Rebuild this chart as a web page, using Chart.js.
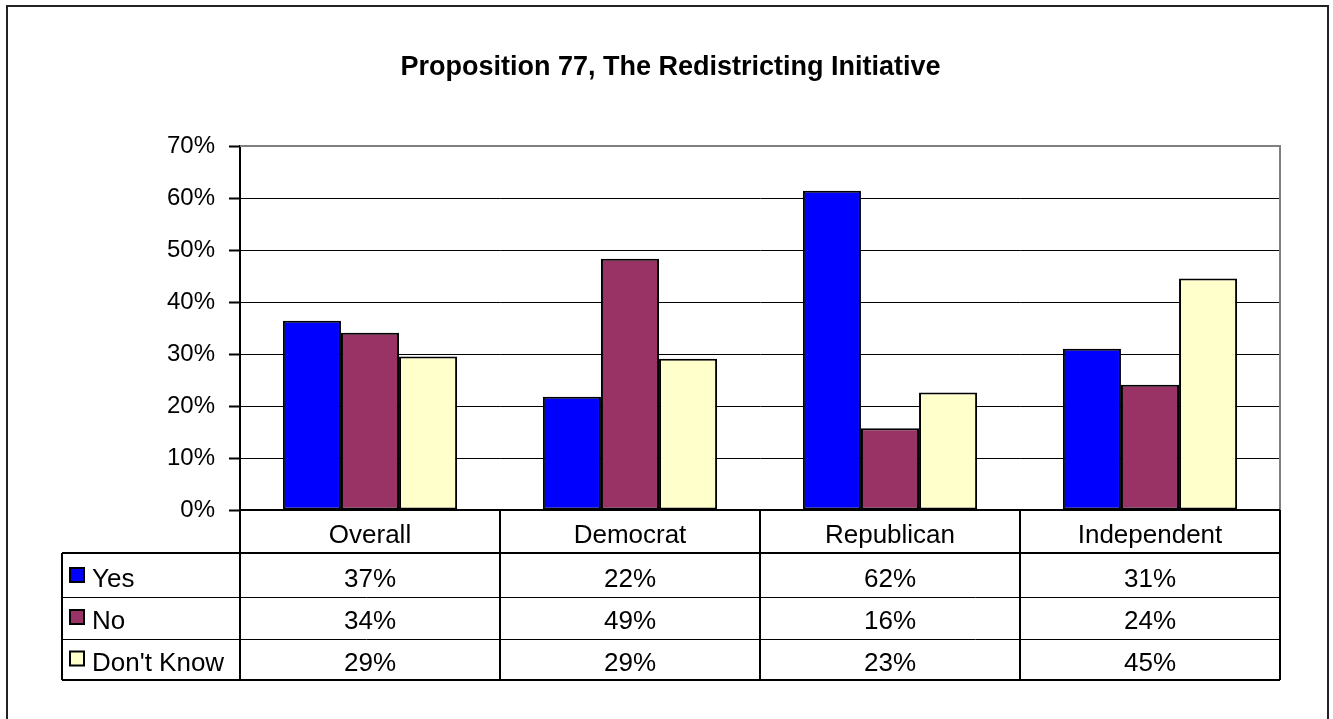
<!DOCTYPE html>
<html>
<head>
<meta charset="utf-8">
<script src="https://cdn.jsdelivr.net/npm/chart.js@4/dist/chart.umd.min.js"></script>
<style>
  html, body { margin: 0; padding: 0; background: #ffffff; }
  #wrap { width: 1333px; height: 719px; }
</style>
</head>
<body>
<div id="wrap"><canvas id="c" width="1333" height="719"></canvas></div>
<script>
// ---- data ----
const categories = ['Overall', 'Democrat', 'Republican', 'Independent'];
const seriesNames = ['Yes', 'No', "Don't Know"];
const yesValues = [36.4, 21.8, 61.4, 31.0];
const noValues = [34.1, 48.3, 15.7, 24.1];
const dontKnowValues = [29.5, 29.1, 22.6, 44.5];
const yesTableLabels = ['37%', '22%', '62%', '31%'];
const noTableLabels = ['34%', '49%', '16%', '24%'];
const dontKnowTableLabels = ['29%', '29%', '23%', '45%'];
const yTickValues = [0, 10, 20, 30, 40, 50, 60, 70];
const titleText = 'Proposition 77, The Redistricting Initiative';

const seriesColors = ['#0000FF', '#993366', '#FFFFCC'];
const tableLabels = [yesTableLabels, noTableLabels, dontKnowTableLabels];
const FONT = "'Liberation Sans', Arial, Helvetica, sans-serif";

const frameAndTable = {
  id: 'frameAndTable',
  afterDraw(chart) {
    const ctx = chart.ctx;
    const ca = chart.chartArea;
    const xs = chart.scales.x;
    ctx.save();
    // plot area border (top + right, gray)
    ctx.strokeStyle = '#808080';
    ctx.lineWidth = 2;
    ctx.beginPath();
    ctx.moveTo(ca.left, ca.top);
    ctx.lineTo(ca.right, ca.top);
    ctx.lineTo(ca.right, ca.bottom);
    ctx.stroke();

    // data table
    const rowEdges = [ca.bottom, ca.bottom + 43, ca.bottom + 86.5, ca.bottom + 128.5, ca.bottom + 170];
    const tableLeft = 62;
    const n = categories.length;
    const colW = (ca.right - ca.left) / n;
    const colEdges = [];
    for (let i = 0; i <= n; i++) colEdges.push(ca.left + i * colW);

    ctx.strokeStyle = '#000';
    ctx.lineWidth = 2;
    ctx.beginPath();
    ctx.moveTo(ca.left, rowEdges[0]); ctx.lineTo(ca.right, rowEdges[0]);
    ctx.moveTo(tableLeft, rowEdges[1]); ctx.lineTo(ca.right, rowEdges[1]);
    ctx.moveTo(tableLeft, rowEdges[4]); ctx.lineTo(ca.right, rowEdges[4]);
    ctx.moveTo(tableLeft, rowEdges[1]); ctx.lineTo(tableLeft, rowEdges[4]);
    for (let i = 0; i <= n; i++) {
      ctx.moveTo(colEdges[i], rowEdges[0]); ctx.lineTo(colEdges[i], rowEdges[4]);
    }
    ctx.stroke();
    ctx.lineWidth = 1;
    ctx.beginPath();
    ctx.moveTo(tableLeft, Math.round(rowEdges[2]) + 0.5); ctx.lineTo(ca.right, Math.round(rowEdges[2]) + 0.5);
    ctx.moveTo(tableLeft, Math.round(rowEdges[3]) + 0.5); ctx.lineTo(ca.right, Math.round(rowEdges[3]) + 0.5);
    ctx.stroke();

    // texts
    ctx.fillStyle = '#000';
    ctx.font = '26px ' + FONT;
    ctx.textAlign = 'center';
    ctx.textBaseline = 'alphabetic';
    for (let i = 0; i < n; i++) {
      const cx = xs.getPixelForValue(i);
      ctx.fillText(categories[i], cx, rowEdges[1] - 10);
      for (let s = 0; s < 3; s++) {
        ctx.fillText(tableLabels[s][i], cx, rowEdges[s + 2] - 9.5);
      }
    }
    // legend keys + series names
    ctx.textAlign = 'left';
    for (let s = 0; s < 3; s++) {
      const base = rowEdges[s + 2] - 9.5;
      const ky = base - 19;
      ctx.fillStyle = seriesColors[s];
      ctx.fillRect(70, ky, 14, 14);
      ctx.lineWidth = 2;
      ctx.strokeStyle = '#000';
      ctx.strokeRect(70, ky, 14, 14);
      ctx.fillStyle = '#000';
      ctx.fillText(chart.data.datasets[s].label, 92, base);
    }

    // outer chart frame
    ctx.strokeStyle = '#222';
    ctx.lineWidth = 2;
    ctx.strokeRect(7, 6, 1321, 730);
    ctx.restore();
  }
};

new Chart(document.getElementById('c'), {
  type: 'bar',
  data: {
    labels: categories,
    datasets: [
      { label: seriesNames[0], data: yesValues, backgroundColor: seriesColors[0] },
      { label: seriesNames[1], data: noValues, backgroundColor: seriesColors[1] },
      { label: seriesNames[2], data: dontKnowValues, backgroundColor: seriesColors[2] }
    ]
  },
  options: {
    responsive: false,
    animation: false,
    events: [],
    layout: { padding: { left: 61, right: 53, top: 0, bottom: 209 } },
    datasets: {
      bar: {
        categoryPercentage: 0.67,
        barPercentage: 1.0,
        borderColor: '#000',
        borderWidth: 2,
        borderSkipped: false
      }
    },
    plugins: {
      legend: { display: false },
      tooltip: { enabled: false },
      title: {
        display: true,
        text: titleText,
        color: '#000',
        font: { family: FONT, size: 27, weight: 'bold', lineHeight: 1.2 },
        padding: { top: 51, bottom: 62.6 }
      }
    },
    scales: {
      x: {
        display: false,
        grid: { display: false }
      },
      y: {
        min: 0,
        max: 70,
        afterBuildTicks(scale) {
          scale.ticks = yTickValues.map(v => ({ value: v }));
        },
        afterFit(scale) { scale.width = 179; },
        border: { display: true, color: '#000', width: 2 },
        grid: {
          color: c => (c.tick && c.tick.value === 70) ? '#808080' : '#000',
          lineWidth: 1,
          tickColor: '#000',
          tickWidth: 2,
          tickLength: 11,
          drawTicks: true
        },
        ticks: {
          color: '#000',
          padding: 14,
          font: { family: FONT, size: 24 },
          callback: v => v + '%'
        }
      }
    }
  },
  plugins: [frameAndTable]
});
</script>
</body>
</html>
